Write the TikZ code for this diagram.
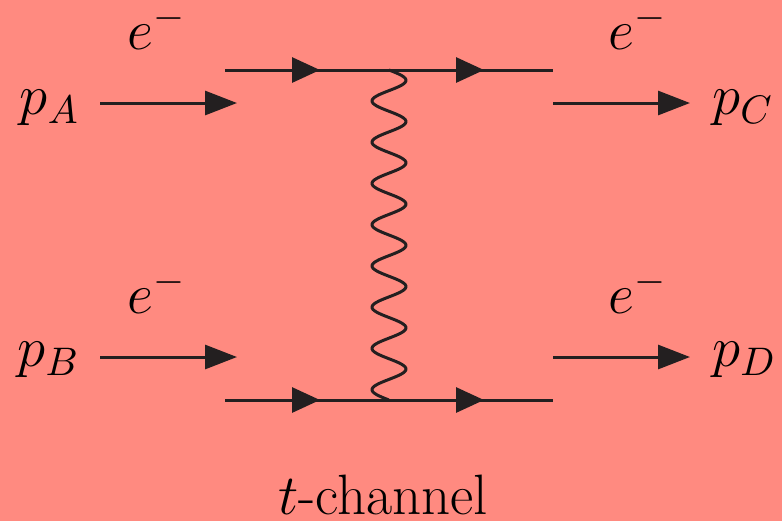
\documentclass[tikz,border=0pt]{standalone}
\usepackage{fix-cm}
\usepackage{amsmath,amssymb}
\usepackage{tikz}
\usetikzlibrary{arrows.meta,decorations.markings}
\definecolor{bgsalmon}{RGB}{255,138,128}
\definecolor{linedark}{RGB}{35,31,32}
\tikzset{
  fermion/.style={linedark,line width=0.85pt,postaction={decorate},
    decoration={markings,mark=at position 0.5 with {\arrow[xshift=0.13cm]{Triangle[length=0.28cm,width=0.25cm]}}}},
  photon/.style={linedark,line width=0.85pt},
  momentum/.style={linedark,line width=0.85pt,-{Triangle[length=0.32cm,width=0.24cm]}},
  lbl/.style={font=\fontsize{16.2pt}{19pt}\selectfont}
}

\begin{document}
\begin{tikzpicture}
\fill[bgsalmon] (0,0) rectangle (7.82,5.21);
\useasboundingbox (0,0) rectangle (7.82,5.21);
% vertices and external legs
\coordinate (a1) at (2.25,4.51);
\coordinate (v1) at (3.89,4.51);
\coordinate (c1) at (5.53,4.51);
\coordinate (b1) at (2.25,1.21);
\coordinate (v2) at (3.89,1.21);
\coordinate (d1) at (5.53,1.21);
\draw[fermion] (a1) -- (v1);
\draw[fermion] (v1) -- (c1);
\draw[fermion] (b1) -- (v2);
\draw[fermion] (v2) -- (d1);
% photon, 8 wiggles from v1 down to v2
\begin{scope}[shift={(v1)}]
\draw[photon] plot[domain=0:3.30,samples=241,smooth] ({0.17*sin(\x*360/0.4125)},{-\x});
\end{scope}
% momenta
\coordinate (mA) at (1.00,4.18);
\coordinate (mA2) at (2.37,4.18);
\coordinate (mC) at (5.53,4.18);
\coordinate (mC2) at (6.90,4.18);
\coordinate (mB) at (1.00,1.64);
\coordinate (mB2) at (2.37,1.64);
\coordinate (mD) at (5.53,1.64);
\coordinate (mD2) at (6.90,1.64);
\draw[momentum] (mA) -- (mA2);
\draw[momentum] (mC) -- (mC2);
\draw[momentum] (mB) -- (mB2);
\draw[momentum] (mD) -- (mD2);
\node[lbl,anchor=mid east,xshift=-0.08cm,yshift=-0.04cm] (pA) at (mA) {$p_A$};
\node[lbl,anchor=mid west,xshift=0.1cm,yshift=-0.04cm] (pC) at (mC2) {$p_C$};
\node[lbl,anchor=mid east,xshift=-0.08cm,yshift=-0.02cm] (pB) at (mB) {$p_B$};
\node[lbl,anchor=mid west,xshift=0.1cm,yshift=-0.02cm] (pD) at (mD2) {$p_D$};
\node[lbl,anchor=base] (eA) at (1.57,4.72) {$e^-$};
\node[lbl,anchor=base] (eC) at (6.38,4.72) {$e^-$};
\node[lbl,anchor=base] (eB) at (1.57,2.08) {$e^-$};
\node[lbl,anchor=base] (eD) at (6.38,2.08) {$e^-$};
\node[lbl,anchor=base] (chan) at (3.83,0.07) {$t$-channel};
\end{tikzpicture}
\end{document}
